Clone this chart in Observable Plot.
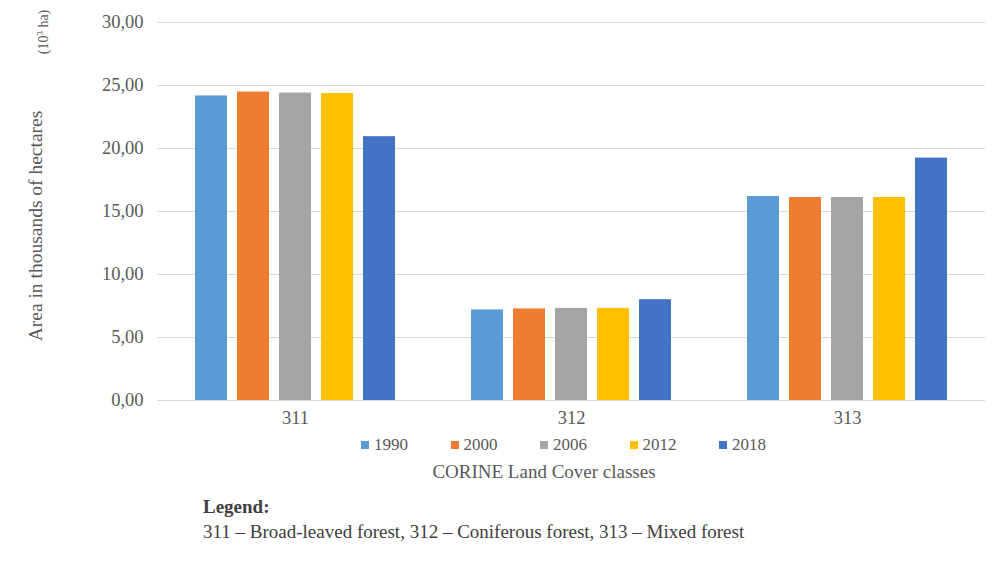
<!DOCTYPE html>
<html>
<head>
<meta charset="utf-8">
<script src="https://cdn.jsdelivr.net/npm/d3@7"></script>
<script src="https://cdn.jsdelivr.net/npm/@observablehq/plot@0.6"></script>
<style>
  html, body { margin: 0; padding: 0; background: #fff; }
  #wrap { position: relative; width: 1000px; height: 574px; overflow: hidden; font-family: "Liberation Serif", "Times New Roman", serif; color: #595959; }
  #chart svg { display: block; }
  .abs { position: absolute; white-space: nowrap; line-height: 20px; }
  .rot { transform: translate(-50%, -50%) rotate(-90deg); }
  #legend { position: absolute; left: 361px; top: 436px; display: flex; gap: 42.5px; font-size: 17px; line-height: 18px; }
  #legend .item { display: flex; align-items: center; }
  #legend .sw { width: 8px; height: 8px; margin-right: 5px; }
</style>
</head>
<body>
<div id="wrap">
  <div id="chart"></div>
  <div class="abs rot" style="left:36px; top:226px; font-size:19.5px;">Area in thousands of hectares</div>
  <div class="abs rot" style="left:42px; top:32px; font-size:14px;">(10<sup style="font-size:9px">3</sup> ha)</div>
  <div id="legend"></div>
  <div class="abs" style="left:544px; top:472px; transform: translate(-50%,-50%); font-size:19px;">CORINE Land Cover classes</div>
  <div class="abs" style="left:203px; top:497px; font-size:19px; font-weight:bold; color:#404040;">Legend:</div>
  <div class="abs" style="left:203px; top:522px; font-size:19px; color:#404040;">311 – Broad-leaved forest, 312 – Coniferous forest, 313 – Mixed forest</div>
</div>
<script>
const classes = ["311", "312", "313"];
const years = ["1990", "2000", "2006", "2012", "2018"];
const colors = ["#5B9BD5", "#ED7D31", "#A5A5A5", "#FFC000", "#4472C4"];
const values311 = [24.17, 24.48, 24.40, 24.36, 20.94];
const values312 = [7.19, 7.27, 7.31, 7.31, 8.00];
const values313 = [16.19, 16.11, 16.11, 16.11, 19.24];
const yTicks = [0, 5, 10, 15, 20, 25, 30];

const series = [values311, values312, values313];
const data = [];
classes.forEach((c, i) => years.forEach((y, j) => data.push({cls: c, year: y, value: series[i][j]})));

const fmt = d => d.toFixed(2).replace(".", ",");

const plot = Plot.plot({
  width: 1000,
  height: 432,
  marginTop: 22,
  marginBottom: 32,
  marginLeft: 157,
  marginRight: 15,
  style: {fontFamily: "'Liberation Serif', 'Times New Roman', serif", fontSize: "18.5px", color: "#595959", background: "#fff"},
  fx: {domain: classes, padding: 0, paddingInner: 0, paddingOuter: 0, axis: "bottom", tickSize: 0, tickPadding: 10, label: null},
  x: {domain: years, paddingInner: 0.23, paddingOuter: 0.84, axis: null},
  y: {domain: [0, 30], ticks: yTicks, tickFormat: fmt, tickSize: 0, tickPadding: 14, label: null},
  color: {domain: years, range: colors},
  marks: [
    Plot.gridY(yTicks, {stroke: "#d9d9d9", strokeOpacity: 1}),
    Plot.barY(data, {fx: "cls", x: "year", y: "value", fill: "year"})
  ]
});
document.getElementById("chart").appendChild(plot);

const leg = document.getElementById("legend");
years.forEach((y, i) => {
  const it = document.createElement("div");
  it.className = "item";
  const sw = document.createElement("span");
  sw.className = "sw";
  sw.style.background = colors[i];
  const t = document.createElement("span");
  t.textContent = y;
  it.appendChild(sw);
  it.appendChild(t);
  leg.appendChild(it);
});
</script>
</body>
</html>
